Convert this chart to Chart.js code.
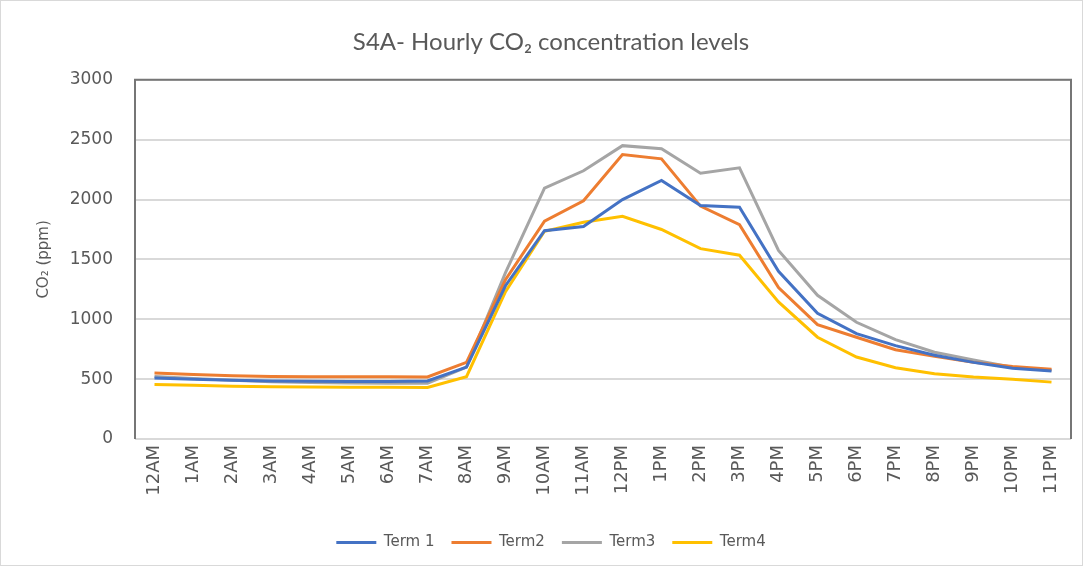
<!DOCTYPE html>
<html>
<head>
<meta charset="utf-8">
<script src="https://cdn.jsdelivr.net/npm/chart.js@4/dist/chart.umd.min.js"></script>
<style>
    body { margin: 0; background: #fff; }
    #wrap { width: 1081px; height: 564px; border: 1px solid #d9d9d9; }
</style>
</head>
<body>
<div id="wrap"><canvas id="chartCO2"></canvas></div>
<script>
// Hours of the day
var hours = ['12AM', '1AM', '2AM', '3AM', '4AM', '5AM', '6AM', '7AM', '8AM', '9AM', '10AM', '11AM',
    '12PM', '1PM', '2PM', '3PM', '4PM', '5PM', '6PM', '7PM', '8PM', '9PM', '10PM', '11PM'];

// CO2 values (ppm)
var term1 = [510, 500, 490, 485, 482, 480, 480, 485, 600, 1280, 1740, 1775,
    2000, 2160, 1950, 1935, 1400, 1050, 880, 780, 700, 640, 590, 568];
var term2 = [552, 538, 528, 522, 520, 520, 520, 518, 640, 1330, 1820, 1990,
    2375, 2340, 1945, 1790, 1265, 955, 850, 745, 690, 640, 605, 583];
var term3 = [522, 505, 490, 478, 472, 468, 466, 465, 600, 1390, 2095, 2240,
    2450, 2425, 2220, 2265, 1575, 1200, 975, 830, 725, 660, 600, 575];
var term4 = [455, 448, 440, 436, 434, 433, 432, 430, 520, 1230, 1735, 1810,
    1860, 1750, 1590, 1535, 1145, 850, 685, 595, 545, 518, 500, 475];

var yTicks = [0, 500, 1000, 1500, 2000, 2500, 3000];

// Plot area frame: dark on left, top and right
var frame = {
    id: 'frame',
    afterDraw: function(chart) {
        var a = chart.chartArea;
        var c = chart.ctx;
        c.save();
        c.strokeStyle = '#767676';
        c.lineWidth = 2;
        c.beginPath();
        c.moveTo(a.left, a.bottom);
        c.lineTo(a.left, a.top);
        c.lineTo(a.right, a.top);
        c.lineTo(a.right, a.bottom);
        c.stroke();
        c.restore();
    }
};

var ctx = document.querySelector('#chartCO2').getContext('2d');
var chart = new Chart(ctx, {
    type: 'line',
    data: {
        labels: hours,
        datasets: [
            { label: 'Term 1', data: term1, borderColor: '#4472C4', backgroundColor: '#4472C4', borderWidth: 3 },
            { label: 'Term2', data: term2, borderColor: '#ED7D31', backgroundColor: '#ED7D31', borderWidth: 3 },
            { label: 'Term3', data: term3, borderColor: '#A5A5A5', backgroundColor: '#A5A5A5', borderWidth: 3 },
            { label: 'Term4', data: term4, borderColor: '#FFC000', backgroundColor: '#FFC000', borderWidth: 3 }
        ]
    },
    options: {
        responsive: true,
        maintainAspectRatio: false,
        animation: false,
        elements: {
            line: { borderWidth: 3, tension: 0 },
            point: { radius: 0 }
        },
        layout: { padding: { left: 30, right: 11, top: 11, bottom: 5 } },
        plugins: {
            title: {
                display: true,
                text: 'S4A- Hourly CO\u2082 concentration levels',
                color: '#595959',
                font: { family: 'Lato', size: 24, weight: 'normal' },
                padding: { top: 16, bottom: 23 }
            },
            legend: {
                position: 'bottom',
                labels: {
                    usePointStyle: true,
                    pointStyle: 'line',
                    pointStyleWidth: 40,
                    color: '#595959',
                    font: { family: 'DejaVu Sans', size: 15 },
                    padding: 17
                }
            },
            tooltip: { enabled: false }
        },
        scales: {
            x: {
                offset: true,
                grid: { display: false, drawTicks: false },
                border: { display: false },
                ticks: {
                    color: '#595959',
                    font: { family: 'DejaVu Sans', size: 18 },
                    minRotation: 90,
                    maxRotation: 90,
                    padding: 6,
                    autoSkip: false
                },
                afterFit: function(axis) { axis.height = 79; }
            },
            y: {
                min: 0,
                max: 3000,
                afterBuildTicks: function(axis) {
                    axis.ticks = yTicks.map(function(v) { return { value: v }; });
                },
                afterFit: function(axis) { axis.width = 104; },
                grid: { color: '#d9d9d9', lineWidth: 2, drawTicks: false },
                border: { display: false },
                ticks: {
                    color: '#595959',
                    font: { family: 'DejaVu Sans', size: 17 },
                    padding: 22,
                    callback: function(v) { return String(v); }
                },
                title: {
                    display: true,
                    text: 'CO\u2082 (ppm)',
                    color: '#595959',
                    font: { family: 'DejaVu Sans', size: 15 },
                    padding: 4
                }
            }
        }
    },
    plugins: [frame]
});
</script>
</body>
</html>
